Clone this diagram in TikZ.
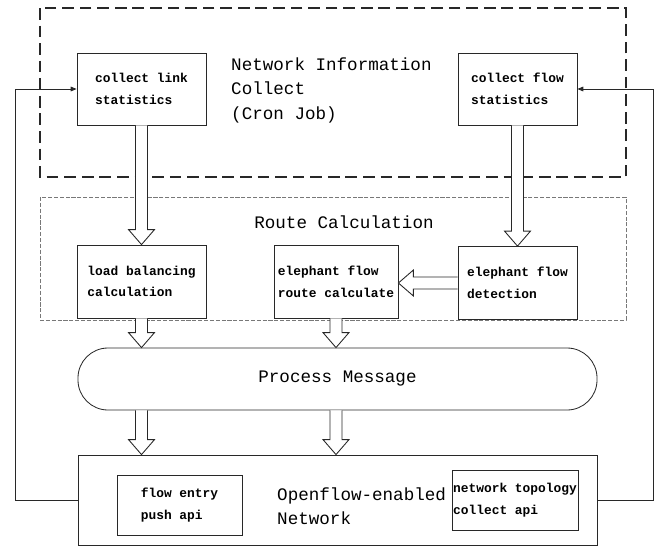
\documentclass[tikz,border=0pt]{standalone}
\usepackage{fontspec}
\setmonofont{Liberation Mono}
\usetikzlibrary{arrows.meta, calc, positioning}
\definecolor{linegray}{RGB}{40,40,40}
\definecolor{dashgray}{RGB}{120,120,120}
\newcommand{\boxfont}{\ttfamily\bfseries\fontsize{11}{18.5}\selectfont}
\newcommand{\titlefont}{\ttfamily\fontsize{15}{20.5}\selectfont}
% hollow block arrow between two points
\newcommand{\fatarrow}[2]{%
  \coordinate (fa-s) at (#1);
  \coordinate (fa-t) at (#2);
  \coordinate (fa-h) at ($(fa-t)!0.45cm!(fa-s)$);
  \draw[hollow] ($(fa-s)!0.18cm!90:(fa-t)$) -- ($(fa-h)!0.18cm!90:(fa-t)$)
    -- ($(fa-h)!0.39cm!90:(fa-t)$) -- (fa-t) -- ($(fa-h)!0.39cm!-90:(fa-t)$)
    -- ($(fa-h)!0.18cm!-90:(fa-t)$) -- ($(fa-s)!0.18cm!-90:(fa-t)$);
}
\tikzset{
  box/.style={draw=linegray, line width=0.7pt, align=left, inner sep=0pt, font=\boxfont},
  hollow/.style={draw=linegray, line width=0.75pt, fill=white, line join=miter},
  feedback/.style={draw=linegray, line width=0.7pt, -{Triangle[length=5pt, width=4pt]}},
}

\begin{document}
\begin{tikzpicture}[x=0.03cm, y=-0.03cm]
  \useasboundingbox (0,0) rectangle (661,553);

  % Network information collect
  \draw[linegray, line width=1.6pt, dash pattern=on 10pt off 5pt] (40,8) rectangle (626,177);
  \node[box, minimum width=3.87cm, minimum height=2.16cm] (link) at (141.5,89) {collect link\\statistics};
  \node[box, minimum width=3.57cm, minimum height=2.16cm] (flow) at (517.5,89) {collect flow\\statistics};
  \node[anchor=north west, align=left, font=\titlefont, inner sep=0pt] (collect) at (231,58) {Network Information\\Collect\\(Cron Job)};

  % Route calculation
  \draw[dashgray, line width=0.7pt, dash pattern=on 3.5pt off 1.5pt] (40,197) rectangle (626,320);
  \node[font=\titlefont] (route) at (344,222) {Route Calculation};
  \node[box, minimum width=3.87cm, minimum height=2.19cm] (lb) at (141.5,281.5) {load balancing\\calculation};
  \node[box, minimum width=3.72cm, minimum height=2.19cm] (efr) at (336,281.5) {elephant flow\\route calculate};
  \node[box, minimum width=3.57cm, minimum height=2.19cm] (efd) at (517.5,283) {elephant flow\\detection};

  % Process message
  \node[box, font=\titlefont, align=center, rounded corners=0.9cm,
        minimum width=15.57cm, minimum height=1.86cm] (proc) at (337.5,379) {Process Message};

  % Openflow network
  \node[box, minimum width=15.57cm, minimum height=2.7cm] (net) at (337.5,500) {};
  \node[box, minimum width=3.75cm, minimum height=1.8cm] (push) at (179.5,505) {flow entry\\push api};
  \node[box, minimum width=3.78cm, minimum height=1.8cm] (topo) at (515,500) {network topology\\collect api};
  \node[anchor=west, align=left, font=\titlefont, inner sep=0pt] (openflow) at (277,506) {Openflow-enabled\\Network};

  % Block arrows
  \fatarrow{link.south}{lb.north}
  \fatarrow{flow.south}{flow.south |- efd.north}
  \fatarrow{efd.west}{efd.west -| efr.east}
  \fatarrow{lb.south}{lb.south |- proc.north}
  \fatarrow{efr.south}{efr.south |- proc.north}
  \fatarrow{proc.south -| lb.south}{net.north -| lb.south}
  \fatarrow{proc.south -| efr.south}{net.north -| efr.south}

  % Feedback lines
  \draw[feedback] (net.west) -- ++(-62,0) |- (link.west);
  \draw[feedback] (net.east) -- ++(56,0) |- (flow.east);
\end{tikzpicture}
\end{document}
